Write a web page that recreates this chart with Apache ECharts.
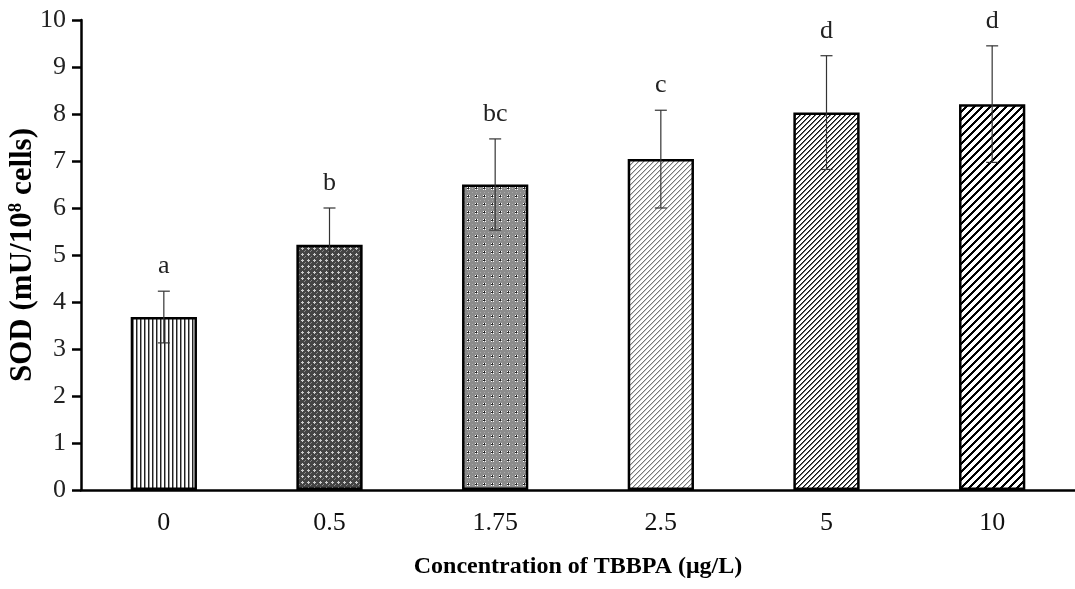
<!DOCTYPE html>
<html>
<head>
<meta charset="utf-8">
<script src="https://cdn.jsdelivr.net/npm/echarts@6/dist/echarts.min.js"></script>
<style>
  html, body { margin: 0; padding: 0; background: #fff; }
  #chart { width: 1075px; height: 589px; }
</style>
</head>
<body>
<div id="chart"></div>
<script>
// --- data ---
const categories = ['0', '0.5', '1.75', '2.5', '5', '10'];
const sodValues = [3.68, 5.22, 6.5, 7.04, 8.03, 8.21];
const sodErrors = [0.55, 0.78, 0.97, 1.04, 1.21, 1.24];
const groupLetters = ['a', 'b', 'bc', 'c', 'd', 'd'];
const yTicks = [0, 1, 2, 3, 4, 5, 6, 7, 8, 9, 10];

const FONT = '"Liberation Serif", "Times New Roman", serif';

// fill patterns, one per bar (drawn on small canvases)
function makePattern(size, draw) {
  const c = document.createElement('canvas');
  c.width = size; c.height = size;
  const ctx = c.getContext('2d');
  draw(ctx, size);
  return { image: c, repeat: 'repeat' };
}

const patterns = [
  // vertical lines
  makePattern(4, (ctx) => {
    ctx.fillStyle = '#fff'; ctx.fillRect(0, 0, 4, 4);
    ctx.fillStyle = '#222'; ctx.fillRect(0, 0, 1, 4);
    ctx.fillStyle = '#999'; ctx.fillRect(1, 0, 1, 4);
  }),
  // dark grey, fine crosses
  makePattern(6, (ctx) => {
    ctx.fillStyle = '#444'; ctx.fillRect(0, 0, 6, 6);
    ctx.fillStyle = '#ccc';
    ctx.fillRect(2, 1, 1, 3); ctx.fillRect(1, 2, 3, 1);
    ctx.fillStyle = '#888'; ctx.fillRect(5, 4, 1, 1); ctx.fillRect(4, 5, 1, 1);
  }),
  // medium grey dotted
  makePattern(8, (ctx) => {
    ctx.fillStyle = '#8c8c8c'; ctx.fillRect(0, 0, 8, 8);
    ctx.fillStyle = '#aaa'; ctx.fillRect(0, 0, 1, 1); ctx.fillRect(4, 0, 1, 1); ctx.fillRect(0, 4, 1, 1);
    ctx.fillStyle = '#fff'; ctx.fillRect(3, 3, 1, 1); ctx.fillRect(5, 5, 1, 1); ctx.fillRect(5, 3, 1, 1); ctx.fillRect(3, 5, 1, 1);
    ctx.fillStyle = '#222'; ctx.fillRect(4, 4, 1, 1); ctx.fillRect(4, 3, 1, 1); ctx.fillRect(3, 4, 1, 1);
  }),
  // light thin diagonal
  makePattern(5, (ctx) => {
    ctx.fillStyle = '#fff'; ctx.fillRect(0, 0, 5, 5);
    for (let i = 0; i < 5; i++) {
      ctx.fillStyle = '#777'; ctx.fillRect(4 - i, i, 1, 1);
      ctx.fillStyle = '#ccc'; ctx.fillRect((5 - i) % 5, i, 1, 1);
    }
  }),
  // dark dense diagonal
  makePattern(5, (ctx) => {
    ctx.fillStyle = '#fff'; ctx.fillRect(0, 0, 5, 5);
    for (let i = 0; i < 5; i++) {
      ctx.fillStyle = '#111'; ctx.fillRect(4 - i, i, 1, 1);
      ctx.fillStyle = '#666'; ctx.fillRect((5 - i) % 5, i, 1, 1);
    }
  }),
  // wide black diagonal
  makePattern(8, (ctx) => {
    ctx.fillStyle = '#fff'; ctx.fillRect(0, 0, 8, 8);
    ctx.fillStyle = '#000';
    for (let i = 0; i < 8; i++) {
      for (let k = 0; k < 3; k++) ctx.fillRect((7 - i + k + 8) % 8, i, 1, 1);
    }
  })
];

const barData = sodValues.map((v, i) => ({
  value: v,
  itemStyle: { color: patterns[i] }
}));

const errData = sodValues.map((v, i) => [i, v - sodErrors[i], v + sodErrors[i]]);

const chart = echarts.init(document.getElementById('chart'), null, { renderer: 'canvas' });

chart.setOption({
  animation: false,
  backgroundColor: '#fff',
  grid: { left: 81, right: 0, top: 20, bottom: 99, outerBoundsMode: 'none', containLabel: false },
  xAxis: {
    type: 'category',
    data: categories,
    name: 'Concentration of TBBPA (μg/L)',
    nameLocation: 'middle',
    nameGap: 65,
    nameMoveOverlap: false,
    nameTextStyle: { fontFamily: FONT, fontSize: 24, fontWeight: 'bold', color: '#000' },
    axisLine: { lineStyle: { color: '#000', width: 2.5 } },
    axisTick: { length: 7, lineStyle: { color: '#000', width: 2.5 } },
    axisLabel: { margin: 20, fontFamily: FONT, fontSize: 26, color: '#111' }
  },
  yAxis: {
    type: 'value',
    min: 0,
    max: 10,
    interval: 1,
    name: '{t|SOD (mU/10}{s|8}{t| cells)}',
    nameLocation: 'middle',
    nameRotate: 90,
    nameGap: 42,
    nameMoveOverlap: false,
    nameTextStyle: {
      rich: {
        t: { fontFamily: FONT, fontSize: 31, fontWeight: 'bold', color: '#000', lineHeight: 32 },
        s: { fontFamily: FONT, fontSize: 19, fontWeight: 'bold', color: '#000', verticalAlign: 'top', lineHeight: 32, padding: [0, 0, 12, 0] }
      }
    },
    axisLine: { show: true, lineStyle: { color: '#000', width: 2.5 } },
    axisTick: { show: true, length: 9, lineStyle: { color: '#000', width: 2.5 } },
    splitLine: { show: false },
    axisLabel: {
      margin: 15,
      fontFamily: FONT,
      fontSize: 26,
      color: '#222',
      formatter: (v) => (yTicks.includes(v) ? String(v) : '')
    }
  },
  series: [
    {
      type: 'bar',
      data: barData,
      barWidth: '40%',
      itemStyle: { borderColor: '#000', borderWidth: 2.5 },
      z: 2
    },
    {
      type: 'custom',
      data: errData,
      z: 5,
      renderItem: (params, api) => {
        const x = api.coord([api.value(0), 0])[0];
        const lo = api.coord([api.value(0), api.value(1)])[1];
        const hi = api.coord([api.value(0), api.value(2)])[1];
        const cap = 6;
        const style = { stroke: '#333', lineWidth: 1.2 };
        return {
          type: 'group',
          children: [
            { type: 'line', shape: { x1: x, y1: hi, x2: x, y2: lo }, style },
            { type: 'line', shape: { x1: x - cap, y1: hi, x2: x + cap, y2: hi }, style },
            { type: 'line', shape: { x1: x - cap, y1: lo, x2: x + cap, y2: lo }, style },
            {
              type: 'text',
              x: x,
              y: hi - 25,
              style: {
                text: groupLetters[params.dataIndex],
                fontFamily: FONT,
                fontSize: 26,
                fill: '#222',
                align: 'center',
                verticalAlign: 'middle'
              }
            }
          ]
        };
      }
    }
  ]
});
</script>
</body>
</html>
